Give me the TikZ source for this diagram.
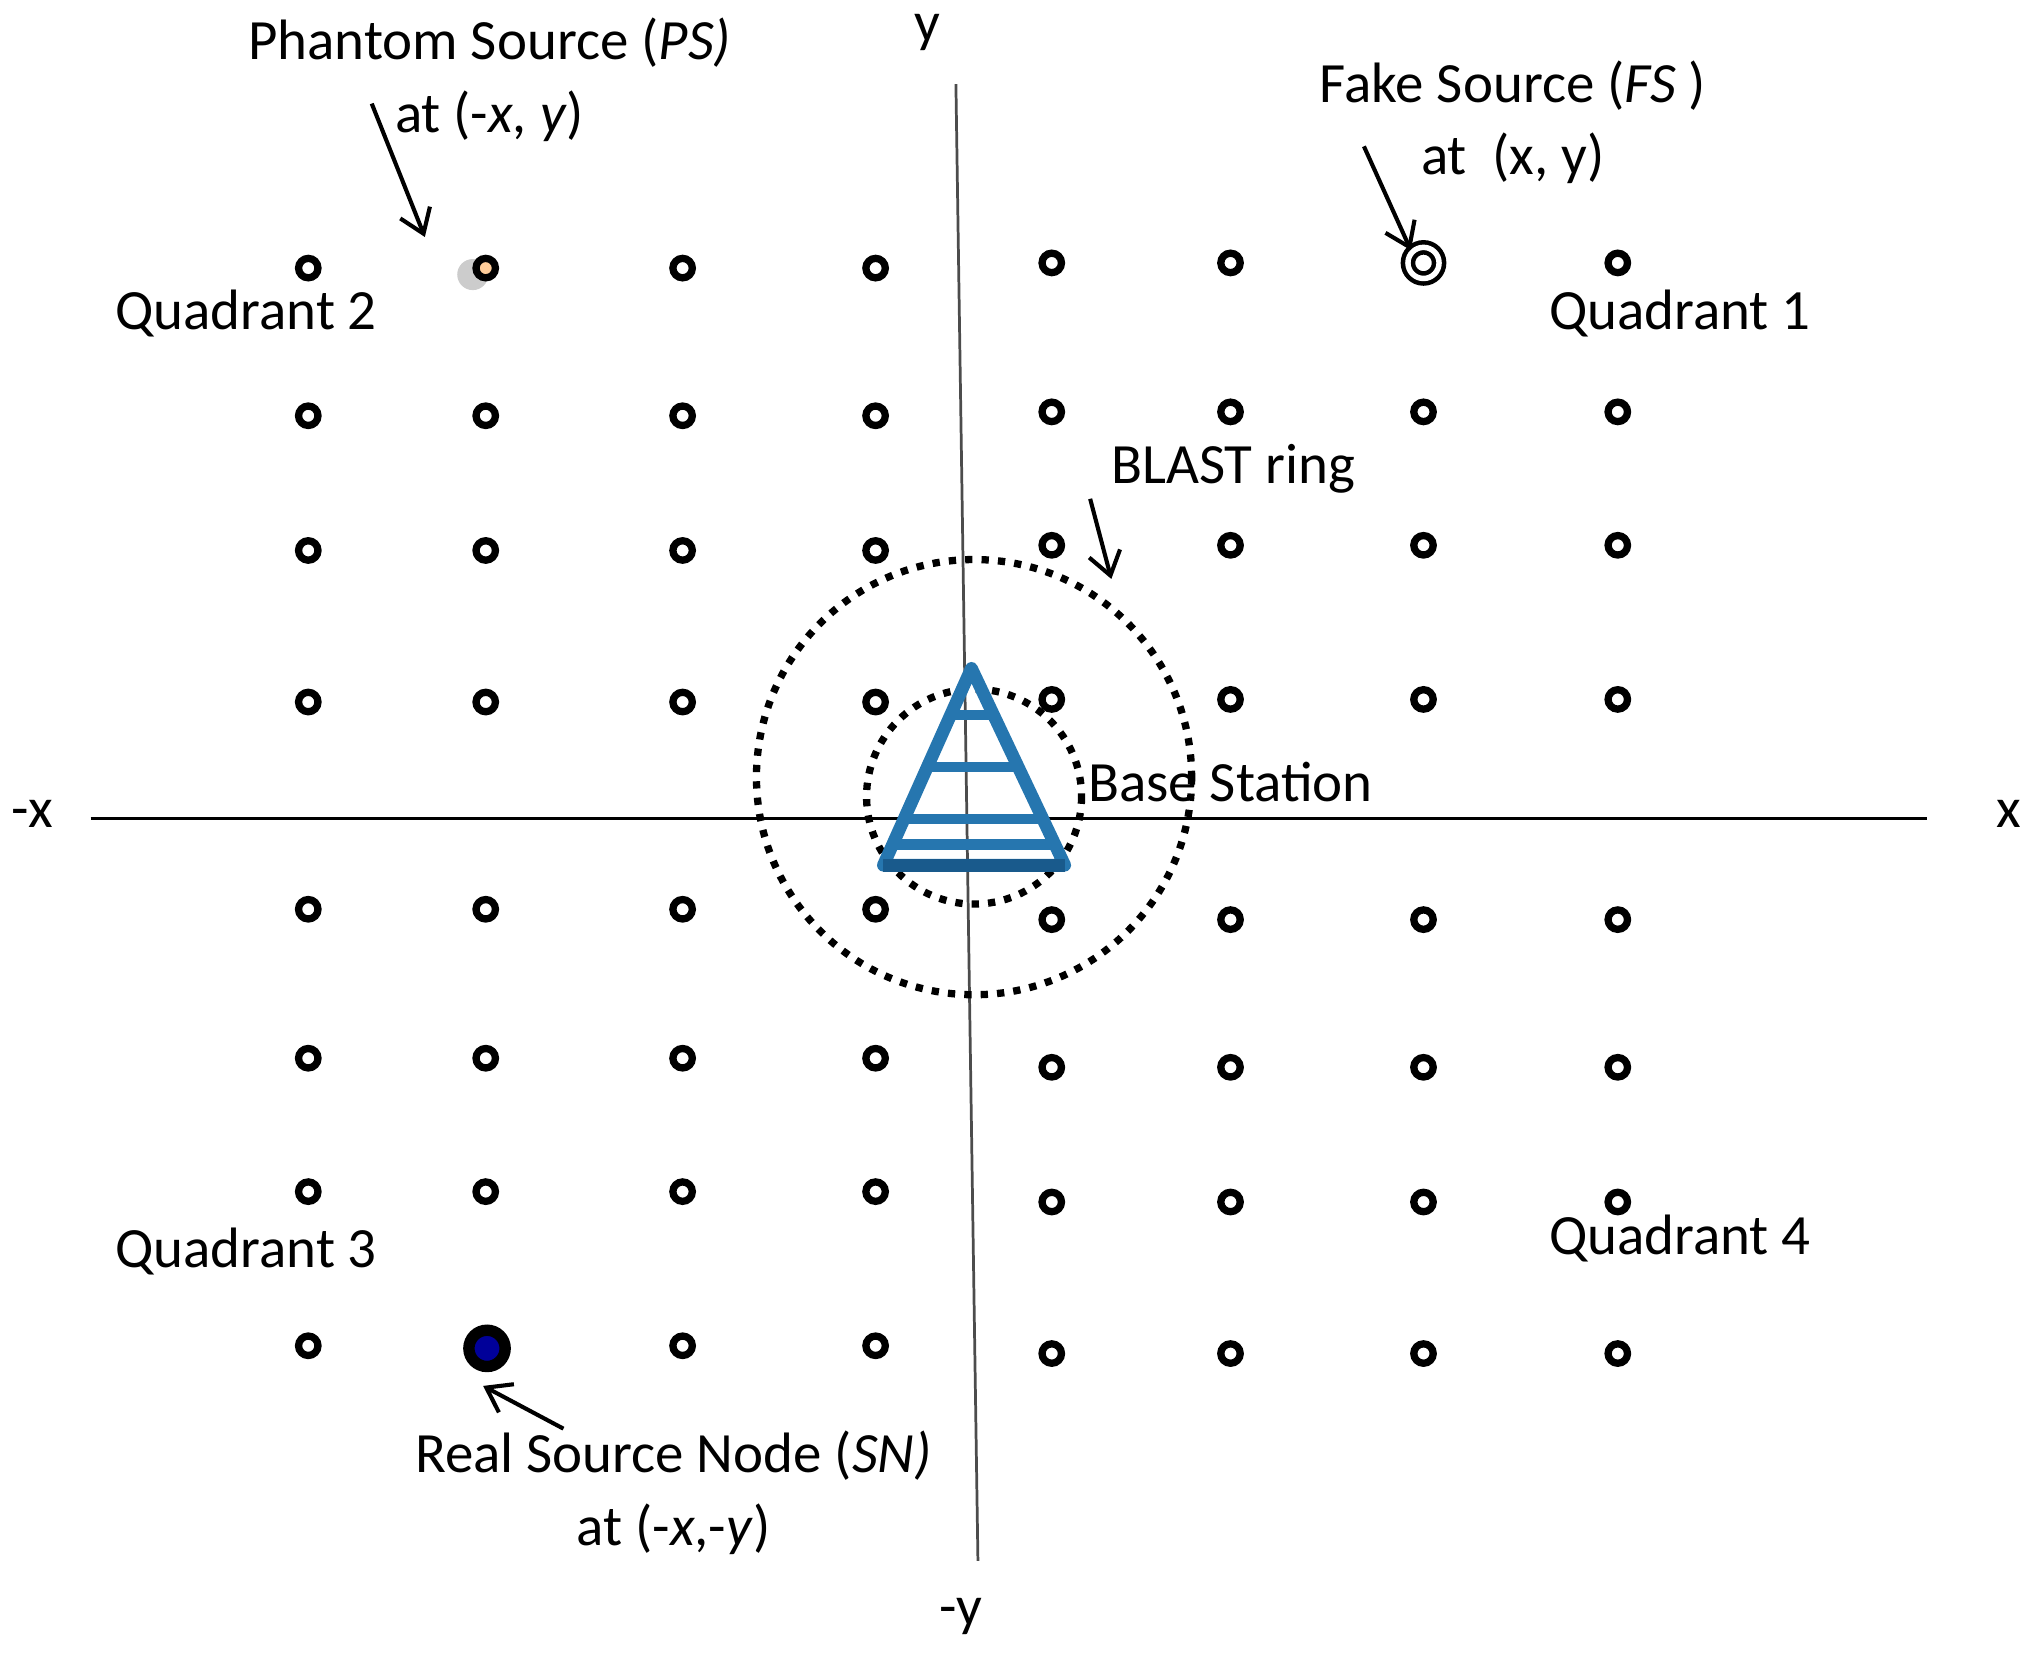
\documentclass[tikz,border=0pt]{standalone}
\usepackage{fontspec}
\setmainfont{Carlito}
\usetikzlibrary{arrows.meta}
\definecolor{bsblue}{RGB}{38,118,175}
\definecolor{bsdark}{RGB}{25,90,140}
\tikzset{
  sensor/.style={circle, draw=black, line width=1.6pt, inner sep=0pt, minimum size=0.15cm},
  lbl/.style={font=\fontsize{12.5}{15}\selectfont, inner sep=1pt},
  pointer/.style={-{Straight Barb[length=5pt,width=7pt]}, line width=0.9pt},
  ring/.style={dotted, line width=1.6pt}
}
\begin{document}
\begin{tikzpicture}[x=0.01cm,y=-0.01cm]
  \useasboundingbox (0,0) rectangle (1568,1280);
  %
  % Eixos
  \coordinate (xl) at (70,632);
  \coordinate (xr) at (1488,632);
  \coordinate (yt) at (738,65);
  \coordinate (yb) at (755,1205);
  \draw [line width=0.6pt] (xl) -- (xr);
  \draw [line width=0.6pt, black!70] (yt) -- (yb);
  \node [lbl] (lx) at (25,628) {-x};
  \node [lbl] (rx) at (1551,628) {x};
  \node [lbl] (ty) at (716,25) {y};
  \node [lbl] (by) at (742,1248) {-y};
  %
  % Nos sensores - lado esquerdo
  \foreach \c/\x in {1/238,2/375,3/527,4/676}
    \foreach \r/\y in {1/207,2/321,3/425,4/542,5/702,6/817,7/920,8/1039} {
      \ifnum\c=2 \ifnum\r=1 \else \ifnum\r=8 \else
        \node [sensor] (L\c\r) at (\x,\y) {};
      \fi\fi \else
        \node [sensor] (L\c\r) at (\x,\y) {};
      \fi
    }
  % Nos sensores - lado direito
  \foreach \c/\x in {1/812,2/950,3/1099,4/1249}
    \foreach \r/\y in {1/203,2/318,3/421,4/540,5/710,6/824,7/928,8/1045} {
      \ifnum\c=3 \ifnum\r=1 \else
        \node [sensor] (R\c\r) at (\x,\y) {};
      \fi \else
        \node [sensor] (R\c\r) at (\x,\y) {};
      \fi
    }
  %
  % Fonte fantasma
  \fill [black!40, opacity=0.5] (365,212) circle (12);
  \node [sensor, fill=orange!40] (ps) at (375,207) {};
  \node [lbl] (pst) at (378,33) {Phantom Source (\textit{PS)}};
  \node [lbl] (psa) at (378,90) {at (-\textit{x, y})};
  \coordinate (pss) at (287,80);
  \coordinate (pse) at (328,183);
  \draw [pointer] (pss) -- (pse);
  %
  % Fonte falsa
  \node [circle, draw, line width=1pt, inner sep=0pt, minimum size=0.24cm, double, double distance=1.2pt] (fs) at (1099,203) {};
  \node [lbl] (fst) at (1168,66) {Fake Source (\textit{FS} )};
  \node [lbl] (fsa) at (1168,122) {at \ (x, y)};
  \coordinate (fss) at (1053,113);
  \draw [pointer] (fss) -- (fs.north west);
  %
  % Fonte real
  \node [circle, draw=black, line width=2.5pt, fill=blue!60!black, inner sep=0pt, minimum size=0.28cm] (sn) at (376,1041) {};
  \node [lbl] (snt) at (520,1124) {Real Source Node (\textit{SN)}};
  \node [lbl] (sna) at (520,1181) {at (-\textit{x},-\textit{y})};
  \coordinate (sns) at (435,1103);
  \coordinate (sne) at (373,1070);
  \draw [pointer] (sns) -- (sne);
  %
  % Quadrantes
  \node [lbl] (q2) at (190,242) {Quadrant 2};
  \node [lbl] (q1) at (1297,242) {Quadrant 1};
  \node [lbl] (q3) at (190,966) {Quadrant 3};
  \node [lbl] (q4) at (1297,956) {Quadrant 4};
  %
  % Estacao base e anel BLAST
  \draw [ring] (752,600) circle (168);
  \draw [ring] (752,615) circle (83);
  \draw [bsblue, line width=2.8pt, line join=round] (750,516) -- (682,668) -- (822,668) -- cycle;
  \foreach \y/\a/\b in {552/734/766, 592/716/784, 632/699/802, 652/690/813}
    \draw [bsblue, line width=2.2pt] (\a,\y) -- (\b,\y);
  \draw [bsdark, line width=2.8pt] (682,668) -- (822,668);
  \node [lbl] (bs) at (950,604) {Base Station};
  \node [lbl] (br) at (952,362) {BLAST ring};
  \coordinate (bre) at (858,447);
  \draw [pointer] (br.south west) ++(-12,0) -- (bre);
\end{tikzpicture}
\end{document}
